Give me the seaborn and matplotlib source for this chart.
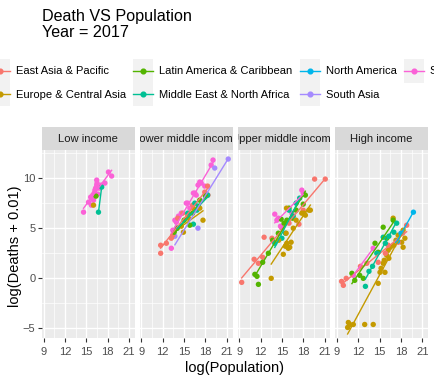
import matplotlib
matplotlib.use("Agg")
import matplotlib.pyplot as plt
import pandas as pd
import seaborn as sns
from matplotlib.legend_handler import HandlerBase
from matplotlib.lines import Line2D
from matplotlib.patches import Rectangle

# regions (legend order) and ggplot hue colours
regions = ["East Asia & Pacific", "Europe & Central Asia", "Latin America & Caribbean",
           "Middle East & North Africa", "North America", "South Asia", "Sub-Saharan Africa"]
region_codes = ["EAP", "ECA", "LAC", "MNA", "NAM", "SAS", "SSA"]
region_colors = ["#F8766D", "#C49A00", "#53B400", "#00C094", "#00B6EB", "#A58AFF", "#FB61D7"]
income_levels = ["Low income", "Lower middle income", "Upper middle income", "High income"]

x_ticks = [9, 12, 15, 18, 21]
y_ticks = [-5, 0, 5, 10]

# (region, log(Population), log(Deaths + 0.01))
low_income = [
    ("SSA", 14.6, 6.6), ("SSA", 15.3, 7.6), ("SSA", 15.6, 8.1), ("SSA", 15.75, 8.0),
    ("SSA", 15.7, 7.3), ("SSA", 16.0, 7.8), ("SSA", 16.1, 8.5), ("SSA", 16.2, 8.8),
    ("SSA", 16.45, 9.3), ("SSA", 16.45, 9.8), ("SSA", 16.5, 9.5), ("SSA", 16.6, 8.4),
    ("SSA", 16.8, 9.0), ("SSA", 17.1, 9.3), ("SSA", 17.6, 9.5), ("SSA", 18.1, 10.6),
    ("SSA", 18.55, 10.2), ("SSA", 16.3, 9.0), ("SSA", 15.9, 8.3),
    ("MNA", 16.7, 6.6), ("MNA", 17.15, 9.1),
    ("LAC", 16.35, 8.2),
    ("ECA", 16.0, 7.3),
]
lower_middle_income = [
    ("SSA", 13.2, 3.0), ("SSA", 13.4, 4.8), ("SSA", 13.7, 5.8), ("SSA", 13.9, 5.6),
    ("SSA", 14.6, 6.5), ("SSA", 15.3, 7.5), ("SSA", 15.5, 7.5), ("SSA", 16.3, 8.5),
    ("SSA", 16.5, 8.5), ("SSA", 16.7, 8.3), ("SSA", 16.95, 9.3), ("SSA", 17.2, 9.6),
    ("SSA", 17.4, 9.5), ("SSA", 17.9, 9.2), ("SSA", 18.8, 11.3), ("SSA", 19.06, 11.8),
    ("SSA", 15.8, 7.0), ("SSA", 14.2, 6.2),
    ("SAS", 13.7, 4.2), ("SAS", 16.95, 5.0), ("SAS", 19.3, 11.0), ("SAS", 21.2, 11.9),
    ("EAP", 11.7, 3.3), ("EAP", 11.7, 2.5), ("EAP", 12.5, 3.5), ("EAP", 13.2, 4.0),
    ("EAP", 13.4, 4.3), ("EAP", 14.1, 6.0), ("EAP", 14.8, 6.5), ("EAP", 15.5, 6.2),
    ("EAP", 16.2, 7.3), ("EAP", 17.9, 8.6), ("EAP", 18.35, 8.3), ("EAP", 18.3, 9.2),
    ("MNA", 14.0, 5.0), ("MNA", 15.5, 6.5), ("MNA", 16.3, 5.4), ("MNA", 17.0, 7.2),
    ("MNA", 18.3, 8.3), ("MNA", 16.5, 7.5), ("MNA", 16.8, 6.8),
    ("LAC", 14.0, 5.0), ("LAC", 15.8, 5.3), ("LAC", 16.2, 6.5), ("LAC", 17.2, 7.8),
    ("LAC", 18.0, 8.2), ("LAC", 15.0, 5.8), ("LAC", 13.6, 4.6),
    ("ECA", 14.6, 5.2), ("ECA", 14.9, 4.6), ("ECA", 15.6, 6.0), ("ECA", 16.4, 6.9),
    ("ECA", 17.2, 7.0), ("ECA", 17.65, 5.8),
]
upper_middle_income = [
    ("EAP", 9.35, -0.4), ("EAP", 11.1, 1.9), ("EAP", 11.7, 1.5), ("EAP", 12.3, 2.1),
    ("EAP", 12.5, 4.1), ("EAP", 13.6, 4.0), ("EAP", 15.0, 5.0), ("EAP", 16.0, 5.5),
    ("EAP", 17.4, 5.4), ("EAP", 18.0, 6.8), ("EAP", 19.6, 9.9), ("EAP", 21.1, 9.9),
    ("SSA", 14.0, 6.4), ("SSA", 14.5, 6.0), ("SSA", 14.8, 5.2), ("SSA", 14.3, 5.8),
    ("SSA", 16.4, 6.5), ("SSA", 17.8, 8.8), ("SSA", 18.0, 8.5),
    ("LAC", 11.2, 0.4), ("LAC", 11.5, 0.2), ("LAC", 11.7, -0.6), ("LAC", 12.3, 1.6),
    ("LAC", 13.1, 2.5), ("LAC", 13.7, 3.8), ("LAC", 14.5, 4.5), ("LAC", 15.3, 5.5),
    ("LAC", 15.7, 5.8), ("LAC", 16.0, 7.0), ("LAC", 17.0, 6.8), ("LAC", 18.3, 8.3),
    ("LAC", 18.0, 7.4), ("LAC", 16.5, 6.0), ("LAC", 14.9, 5.9),
    ("MNA", 14.0, 3.5), ("MNA", 15.0, 4.0), ("MNA", 15.5, 4.5), ("MNA", 16.0, 6.8),
    ("MNA", 17.0, 7.5), ("MNA", 17.5, 8.0), ("MNA", 16.6, 6.2),
    ("ECA", 13.5, 0.0), ("ECA", 15.2, 2.4), ("ECA", 15.9, 3.0), ("ECA", 16.1, 3.1),
    ("ECA", 14.55, 3.8), ("ECA", 15.7, 3.5), ("ECA", 15.6, 4.5), ("ECA", 16.6, 5.0),
    ("ECA", 17.0, 5.8), ("ECA", 17.8, 6.5), ("ECA", 18.3, 6.3), ("ECA", 18.1, 6.5),
    ("ECA", 18.8, 6.8), ("ECA", 19.0, 6.8), ("ECA", 16.3, 3.6), ("ECA", 15.5, 3.2),
    ("ECA", 15.65, 7.0),
]
high_income = [
    ("ECA", 10.6, -4.4), ("ECA", 10.8, -4.6), ("ECA", 10.5, -4.9), ("ECA", 11.3, -4.6),
    ("ECA", 12.9, -4.6), ("ECA", 14.1, -4.6), ("ECA", 14.8, -0.5), ("ECA", 15.05, 0.6),
    ("ECA", 15.75, 0.6), ("ECA", 15.5, 1.5), ("ECA", 15.65, 1.8), ("ECA", 16.0, 2.3),
    ("ECA", 16.2, 2.8), ("ECA", 16.5, 3.1), ("ECA", 16.9, 6.0), ("ECA", 17.6, 4.3),
    ("ECA", 18.1, 3.6), ("ECA", 18.3, 3.1), ("ECA", 18.3, 4.8), ("ECA", 18.55, 4.0),
    ("ECA", 16.3, 2.0), ("ECA", 17.0, 3.3), ("ECA", 17.3, 3.8), ("ECA", 15.2, 1.0),
    ("EAP", 9.65, -0.3), ("EAP", 9.9, -0.7), ("EAP", 10.3, 0.0), ("EAP", 12.3, 1.2),
    ("EAP", 13.2, 1.5), ("EAP", 14.8, 1.6), ("EAP", 15.8, 2.5), ("EAP", 16.2, 3.3),
    ("EAP", 17.6, 3.6), ("EAP", 18.8, 5.3), ("EAP", 18.2, 4.5),
    ("SSA", 11.3, 0.3), ("SSA", 14.1, 3.0),
    ("LAC", 11.1, 0.5), ("LAC", 11.5, -0.2), ("LAC", 12.2, 0.3), ("LAC", 12.7, 0.0),
    ("LAC", 14.35, 3.5), ("LAC", 15.5, 5.1), ("LAC", 16.0, 4.0), ("LAC", 16.9, 5.8),
    ("LAC", 14.8, 2.6),
    ("MNA", 13.0, -0.8), ("MNA", 13.5, 0.7), ("MNA", 14.0, 1.2), ("MNA", 15.5, 4.1),
    ("MNA", 15.8, 3.5), ("MNA", 16.3, 4.2), ("MNA", 17.4, 5.5), ("MNA", 17.0, 4.6),
    ("MNA", 14.6, 2.5),
    ("NAM", 17.5, 3.7), ("NAM", 18.0, 4.5), ("NAM", 19.75, 6.6),
]

code_to_region = dict(zip(region_codes, regions))
frames = []
for level, rows in zip(income_levels, [low_income, lower_middle_income, upper_middle_income, high_income]):
    df = pd.DataFrame(rows, columns=["code", "pop", "deaths"])
    df["income"] = level
    frames.append(df)
data = pd.concat(frames, ignore_index=True)
data["region"] = data["code"].map(code_to_region)
palette = dict(zip(regions, region_colors))

W, H = 435, 384


def box(left, top, width, height):
    return [left / W, 1 - (top + height) / H, width / W, height / H]


plt.rcParams["font.family"] = ["Liberation Sans", "DejaVu Sans"]
fig = plt.figure(figsize=(W / 100, H / 100), dpi=100)

panel_w = 92.75
for i, level in enumerate(income_levels):
    left = 42 + i * (panel_w + 5)
    ax = fig.add_axes(box(left, 150, panel_w, 188))
    strip = fig.add_axes(box(left, 127, panel_w, 23))
    strip.set_facecolor("#D9D9D9")
    strip.set_xticks([])
    strip.set_yticks([])
    for s in strip.spines.values():
        s.set_visible(False)
    strip.text(0.5, 0.5, level, transform=strip.transAxes, ha="center", va="center",
               fontsize=8.1, color="#1A1A1A", clip_on=True)

    sub = data[data["income"] == level]
    sns.scatterplot(data=sub, x="pop", y="deaths", hue="region", hue_order=regions,
                    palette=palette, s=15, edgecolor="none", legend=False, ax=ax, zorder=2)
    for reg in regions:
        g = sub[sub["region"] == reg]
        if len(g) < 2:
            continue
        sns.regplot(data=g, x="pop", y="deaths", scatter=False, ci=None, truncate=True,
                    color=palette[reg], line_kws={"lw": 1.0, "zorder": 3}, ax=ax)

    ax.set_facecolor("#EBEBEB")
    ax.set_xlim(8.76, 21.8)
    ax.set_ylim(-5.95, 12.8)
    ax.set_xticks(x_ticks)
    ax.set_xticks([10.5, 13.5, 16.5, 19.5], minor=True)
    ax.set_yticks(y_ticks)
    ax.set_yticks([-2.5, 2.5, 7.5, 12.5], minor=True)
    ax.grid(which="major", color="white", lw=1.0)
    ax.grid(which="minor", color="white", lw=0.5)
    ax.set_axisbelow(True)
    for s in ax.spines.values():
        s.set_visible(False)
    ax.tick_params(which="major", length=2.7, width=0.8, color="#333333",
                   labelsize=8, labelcolor="#4D4D4D", pad=2)
    ax.tick_params(axis="x", which="major", pad=4)
    ax.tick_params(which="minor", length=0)
    ax.set_xlabel("")
    ax.set_ylabel("")
    if i > 0:
        ax.tick_params(axis="y", which="both", left=False, labelleft=False)


class KeyHandler(HandlerBase):
    # grey ggplot-style key with a line and a point centred in it
    def create_artists(self, legend, orig_handle, xdescent, ydescent, width, height, fontsize, trans):
        x0, y0 = -xdescent, -ydescent
        yc = y0 + height / 2
        bg = Rectangle((x0, y0), width, height, facecolor="#F2F2F2", edgecolor="none",
                       transform=trans)
        color = orig_handle.get_color()
        line = Line2D([x0, x0 + width], [yc, yc], color=color, lw=1.0, transform=trans)
        dot = Line2D([x0 + width / 2], [yc], color=color, marker="o", markersize=3.4,
                     linestyle="none", transform=trans)
        return [bg, line, dot]


handles = [Line2D([], [], color=c, lw=1.0, marker="o", markersize=3.4) for c in region_colors]
fig.legend(handles, regions, handler_map={Line2D: KeyHandler()}, ncol=4,
           loc="upper left", bbox_to_anchor=(-10 / W, 1 - 59 / H), frameon=False,
           fontsize=8, handlelength=1.8, handleheight=2.88, handletextpad=0.55,
           columnspacing=0.63, labelspacing=0, borderpad=0, borderaxespad=0)

fig.text(42 / W, 1 - 9 / H, "Death VS Population\nYear = 2017", ha="left", va="top",
         fontsize=11.6, linespacing=1.12, color="black")
fig.text(235 / W, 1 - 368 / H, "log(Population)", ha="center", va="center", fontsize=10.5)
fig.text(15 / W, 1 - 246 / H, "log(Deaths + 0.01)", ha="center", va="center",
         rotation=90, fontsize=10.5)

fig.savefig("out.png", dpi=100)
